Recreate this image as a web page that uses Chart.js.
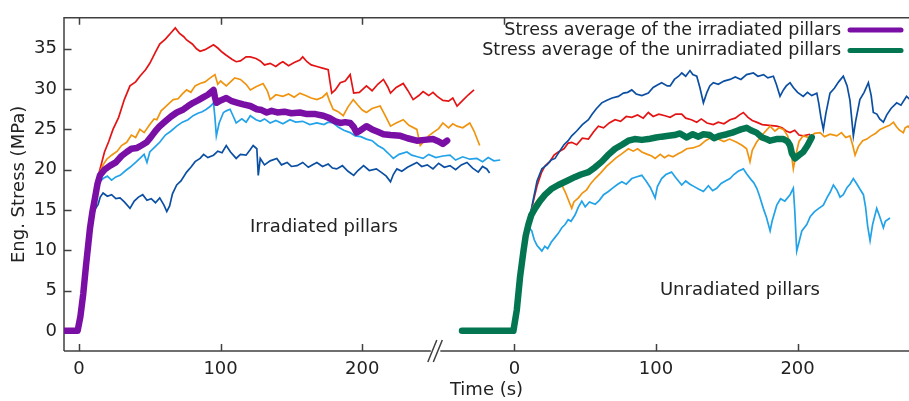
<!DOCTYPE html>
<html>
<head>
<meta charset="utf-8">
<script src="https://cdn.jsdelivr.net/npm/chart.js@4.4.1/dist/chart.umd.min.js"></script>
<style>
  html, body { margin: 0; padding: 0; background: #fff; }
  #wrap { width: 909px; height: 401px; }
</style>
</head>
<body>
<div id="wrap"><canvas id="myChart"></canvas></div>
<script>
// Data: [time (s), eng. stress (MPa)]
// Irradiated pillars (left part of the broken axis)
const irrRed = [[-11,0],[-5,0.2],[0,0],[3,4.6],[8,12.8],[11,16.5],[14,19.5],[18,22.2],[21,23.5],[24,25],[28,26.5],[32,28.7],[36,30.4],[40,30.9],[43,31.6],[47,32.4],[50,33.2],[54,34.6],[57,35.6],[61,36.2],[65,37.0],[68,37.6],[71,36.9],[74,36.5],[76,36.1],[80,35.6],[83,35.0],[85.5,34.7],[89,34.9],[92,35.2],[95,35.5],[98,35.1],[101,34.6],[104,34.2],[108,33.7],[111,33.4],[114,33.5],[118,34.0],[121,34.0],[125,33.8],[128,33.5],[131,33.0],[135,33.2],[139,32.8],[142,33.2],[144,33.4],[148,32.9],[152,33.3],[156,33.6],[158,34.0],[161,33.4],[164,33.0],[168,32.8],[172,32.6],[176,32.4],[177,31.2],[178.5,29.5],[181,29.9],[184.5,30.8],[188,31.0],[191.5,31.8],[194,29.5],[198,29.6],[203,30.4],[207,29.8],[211,30.6],[215,31.2],[218,30.3],[220,29.5],[224,30.2],[229,30.7],[232,29.9],[236,28.7],[240,29.2],[243,29.7],[247,29.2],[250,29.6],[253,29.1],[257,28.6],[261,28.5],[264,28.9],[267,27.9],[271,28.6],[275,29.3],[279,29.9]];
const irrOrange = [[-11,0],[0,0],[3,4.6],[8,12.8],[11,16.5],[14,19.5],[17,20.6],[19.6,21.3],[23,21.8],[27,22.3],[30,23.0],[33.7,23.4],[37,24.3],[40,24.0],[43,25.0],[46,24.6],[50,25.6],[53,26.3],[55,26.2],[58,27.3],[61,27.8],[64,28.3],[66.6,28.7],[70,28.8],[73,29.4],[76,29.9],[79,29.6],[82,30.4],[85.5,30.7],[89,30.9],[92,31.3],[96,31.8],[98,30.6],[100,31.0],[104,30.4],[107,30.9],[110,31.4],[114,31.2],[118,30.6],[121,29.9],[125,30.3],[130,30.7],[133,29.8],[135,28.7],[139,29.3],[144,29.1],[148,29.4],[152,29.0],[156,29.5],[160,29.2],[164,28.9],[168,28.7],[172,29.0],[175,29.5],[177,28.5],[179.5,27.5],[183,27.2],[186.6,26.7],[190,27.8],[193.7,28.7],[197,28.0],[200,27.4],[203,27.1],[207,27.6],[212.7,27.9],[216,26.8],[220,25.4],[224,25.8],[229,26.2],[233,25.5],[238.6,25.0],[241,23.0],[244,23.6],[247,24.2],[250,24.6],[254,25.1],[257,25.8],[261,25.2],[264,25.7],[267,25.4],[271,25.2],[276,25.8],[279,24.8],[283,23.0]];
const irrLightBlue = [[-11,0],[0,0],[3,4.6],[8,12.8],[11,16.5],[14,18.4],[17,18.9],[20,19.2],[23,18.7],[26,19.1],[29,19.3],[33,19.9],[36,20.3],[40,20.9],[43,21.4],[46,21.9],[48,20.9],[50,22.2],[54,22.9],[57,23.4],[61,24.3],[65,24.8],[69,25.4],[73,25.9],[77,26.2],[80.6,26.7],[84,27.0],[87,27.2],[90,27.5],[93,27.9],[95,28.3],[96,26.5],[97,24.2],[99,25.8],[102,27.1],[104,27.3],[106.7,27.5],[109,26.6],[111,25.8],[115,26.3],[118,25.9],[121,26.7],[125,26.2],[128,26.0],[131,26.3],[135,25.8],[139,26.1],[144,25.7],[149,26.2],[153,25.9],[158,26.0],[163,25.6],[168,25.8],[173,25.6],[176,25.9],[179.5,25.8],[183,25.3],[187,24.9],[191.5,24.6],[195,24.2],[199,24.1],[203,23.8],[207,23.6],[211,23.0],[215,22.6],[218,22.1],[222,21.4],[226,21.9],[231.6,22.2],[235,21.8],[239,21.6],[243,21.4],[247,21.9],[252,21.5],[257,21.7],[262,21.8],[266,21.2],[271,21.6],[276,21.3],[281,21.4],[285,21.0],[289,21.5],[293,21.1],[297.5,21.2]];
const irrDarkBlue = [[-11,0],[0,0],[3,4.6],[8,12.3],[11,15.0],[13.5,15.7],[15,16.6],[17,17.1],[20,16.7],[23,16.9],[26,16.4],[29,16.5],[32,16.0],[36,15.2],[39,16.1],[42,16.6],[45,16.9],[48,16.2],[51,16.4],[54,15.9],[57,16.5],[60,15.6],[62,14.8],[64,15.5],[66,17.0],[69,18.1],[72,18.6],[76,19.7],[79,20.3],[82,21.0],[85.5,21.4],[88,21.9],[91,21.5],[95,21.8],[98,22.3],[101,22.1],[104,23.0],[107,22.2],[111,21.4],[114,21.9],[118,21.8],[121,22.5],[123,23.0],[125.6,22.6],[126.6,19.3],[128,21.4],[131,20.6],[135,21.1],[139.7,21.4],[143,20.6],[147,20.9],[150,20.4],[154,20.5],[158,20.9],[162,20.3],[165,20.6],[168,20.9],[172,20.4],[176,20.7],[179,20.2],[182,20.1],[186,20.5],[190,19.8],[194,19.3],[197,19.9],[201,20.5],[205,19.9],[210,20.1],[214,19.6],[217,19.2],[220,18.5],[222,19.4],[224.5,20.1],[228,19.8],[232,20.3],[238.6,20.9],[242,20.4],[246,20.6],[250,20.1],[254,20.8],[258,20.3],[262,20.5],[266,20.0],[270,20.6],[274,20.9],[278,20.2],[282,19.7],[285,20.4],[288,20.1],[290,19.6]];
const irrAverage = [[-11,0],[-6,0],[-1,0],[1,1.8],[3,4.6],[5,8.2],[7.8,12.8],[9.5,14.8],[11.3,16.5],[13,18.2],[14.8,19.3],[18,20.0],[22,20.5],[26,20.9],[30,21.7],[33.7,22.2],[37,22.6],[41,22.7],[44,23.0],[47.8,23.4],[51,24.1],[54,24.8],[57,25.4],[61,26.0],[65,26.6],[69,27.1],[73,27.4],[77,27.9],[80.6,28.3],[84,28.6],[88,29.0],[91,29.3],[95,29.9],[96,29.0],[97,28.3],[100,28.6],[104,28.9],[108,28.5],[112,28.3],[116,28.1],[121,27.9],[125.6,27.5],[129,27.4],[132.6,27.1],[136,27.3],[140,27.1],[145,27.2],[150,27.0],[156,27.1],[161,26.9],[167,26.9],[172.6,26.7],[177,26.4],[181,26.0],[184.5,25.8],[188,25.9],[191.5,25.8],[194,25.3],[196,24.6],[199,24.9],[203,25.4],[207,25.0],[211,24.7],[215,24.4],[220,24.3],[227,24.2],[232,23.9],[238.6,23.6],[244,23.7],[250,23.8],[254,23.5],[257,23.2],[260,23.6]];

// Unirradiated pillars (right part of the broken axis)
const unirrRed = [[-37,0],[-30,0.1],[-20,-0.1],[-10,0.1],[-1,0],[2,2.6],[4,6.7],[6.4,9.9],[9.9,13.2],[13.4,16.1],[16,18.0],[19,19.6],[21.7,20.5],[25,21.0],[28,21.8],[31,22.2],[35,22.6],[38,23.3],[40.5,23.4],[44,23.1],[48,23.9],[52.3,23.8],[56,24.7],[59.3,25.4],[63,25.2],[67,25.8],[71.1,26.2],[75,26.0],[79,26.6],[82.9,26.5],[87,26.8],[91,26.4],[94.6,27.1],[98,26.6],[102,26.9],[106.4,26.7],[110,26.5],[114,26.9],[118.2,26.9],[121,26.4],[125,26.2],[128.8,25.9],[132,26.3],[136,25.8],[140.5,25.6],[144,25.9],[148,25.7],[152.3,26.2],[156,26.4],[159,26.8],[161.7,27.1],[165,26.5],[168,26.1],[171,25.9],[175,25.6],[180,25.5],[185.3,25.4],[189,25.2],[192,24.8],[194.7,24.6],[198,24.9],[201,24.3],[204,24.2],[208.8,24.4]];
const unirrOrange = [[-37,0],[-20,0],[-1,0],[2,2.6],[4,6.7],[6.4,9.9],[9.9,13.2],[13,15.4],[17,16.4],[21,17.0],[25,17.4],[28.7,17.7],[31,17.9],[33.5,18.1],[36,17.2],[38,16.3],[40.5,15.2],[42,16.0],[45.2,16.5],[48,17.1],[51,17.5],[54,18.3],[57,18.9],[61,19.6],[65,20.4],[68.8,21.0],[72,21.5],[76,22.0],[80.5,22.6],[84,22.3],[87,22.6],[90,22.2],[94,21.9],[97,21.7],[99.4,21.4],[103,21.9],[106,21.5],[108.8,21.8],[112,21.6],[116,22.0],[118.2,22.2],[121.7,22.6],[126,22.7],[131,23.0],[135,23.6],[138,23.9],[140.5,24.2],[144,23.8],[148,23.5],[152,23.8],[157,23.4],[161,23.0],[164,22.6],[166.4,21.0],[168,22.4],[171,23.4],[175,24.3],[178,24.9],[180.6,25.4],[184,24.8],[187,25.2],[190,25.0],[193,24.2],[195,22.8],[197,20.1],[199,22.0],[201,23.5],[204,24.2],[208,24.0],[212,24.5],[215.9,24.6],[219,24.1],[223,24.4],[227.7,24.2],[231,24.6],[234,24.0],[237,24.2],[239,23.0],[240.6,21.8],[243,22.9],[246,23.6],[248.9,23.8],[252,24.2],[255,24.5],[258.3,25.0],[262,25.3],[265,25.5],[267.7,25.9],[270,25.3],[272,24.9],[274.7,24.6],[276,25.2],[278,25.4],[280,25.0]];
const unirrLightBlue = [[-37,0],[-20,0],[-1,0],[2,2.6],[4,6.7],[6.4,9.9],[8.5,11.8],[10.5,12.8],[12.3,12.4],[14,11.3],[16,10.6],[17.5,10.3],[19.4,9.9],[21.5,10.5],[23.5,10.2],[26,11.0],[28.7,11.6],[31,12.1],[33.5,12.8],[35.8,13.2],[38,13.8],[40,13.6],[42.9,14.4],[45,15.3],[47.6,16.1],[50,15.4],[53,16.0],[57,15.7],[60,16.2],[63,16.9],[66.4,17.3],[70,17.8],[73,18.2],[75.9,18.5],[79,18.2],[82.9,18.9],[86,19.1],[90,19.3],[93,18.6],[96,17.8],[99.4,16.5],[101,17.9],[104,18.9],[107,19.4],[111,19.7],[114,19.0],[118.2,18.1],[121,18.6],[124,18.2],[127,17.9],[130,17.6],[133.5,17.3],[137,18.0],[140,17.4],[142.9,17.7],[146,18.3],[149,18.6],[152.3,18.9],[155,19.4],[158,19.8],[161.7,20.1],[164,19.5],[167,18.8],[169,18.4],[171.2,17.7],[173,16.8],[175.8,15.2],[178,14.1],[180.6,12.4],[182,13.6],[185.3,15.6],[188,16.4],[191,16.1],[194.7,16.9],[197,17.7],[198,15.0],[199.4,9.9],[201,11.0],[203,12.4],[206.5,13.2],[209,14.2],[212,14.8],[215,15.2],[218.2,15.6],[221,16.6],[223,17.2],[225.3,18.1],[228,17.4],[230,16.6],[232.3,16.9],[235,17.8],[237,18.2],[239.4,18.9],[242,18.2],[244,17.6],[246.5,16.9],[248,15.4],[249.5,13.0],[251.2,11.2],[253,13.2],[255.9,15.2],[258,14.2],[260.6,12.8],[262,13.6],[265.3,14.0]];
const unirrDarkBlue = [[-37,0],[-20,0],[-1,0],[2,2.6],[4,6.7],[6.4,9.9],[9.9,13.2],[13,16.0],[16,18.6],[19.4,20.1],[23,20.6],[26,21.2],[28.7,21.4],[32,22.3],[35,23.1],[38,23.6],[40.5,24.2],[44,24.8],[48,25.6],[52.3,26.2],[55,26.9],[58,27.6],[61.7,28.3],[65,28.6],[69,28.9],[73.4,29.1],[77,29.5],[80,29.6],[82.9,29.9],[86,29.4],[90,29.2],[94.6,29.5],[98,30.2],[101,30.5],[104,30.8],[108,30.4],[110,30.4],[113,31.2],[116,31.6],[118.2,32.0],[121,31.6],[124,32.3],[126,31.8],[128.8,31.6],[131,30.2],[133.5,28.3],[136,29.6],[138,30.4],[140.5,30.8],[144,30.6],[148,31.0],[152.3,31.2],[156,31.5],[160,31.2],[164,31.8],[168.8,32.0],[172,31.6],[176,31.8],[179,31.4],[182.9,31.6],[185,30.6],[187.6,29.1],[190,29.9],[192,30.4],[194.7,30.8],[197,30.2],[200,29.6],[204,29.1],[207,29.6],[210,29.2],[213.6,29.5],[215,28.2],[216.5,26.5],[218.2,25.0],[220,27.0],[222.9,29.5],[226,30.1],[229,30.9],[232.3,31.6],[235,30.4],[237,28.6],[239.4,24.2],[241,26.0],[244,28.7],[247,29.6],[250,30.8],[252,29.2],[253.5,27.1],[256,26.9],[258,26.3],[260.6,25.9],[263,26.8],[266,27.6],[270,28.3],[273,28.0],[277,29.1],[280,28.6]];
const unirrAverage = [[-37,0],[-30,0],[-20,0],[-10,0],[-0.7,0],[1.7,2.6],[4,6.7],[6.4,9.9],[8,11.8],[9.9,13.2],[12,14.4],[14.6,15.2],[18,16.1],[21.7,16.9],[26,17.6],[31,18.1],[37,18.6],[42.9,19.1],[47,19.4],[52.3,19.7],[57,20.3],[61.7,21.0],[66,21.8],[71.1,22.6],[76,23.1],[80.5,23.6],[85,23.8],[90,23.7],[94.6,23.8],[100,24.0],[104,24.1],[108.8,24.2],[113,24.3],[117,24.5],[121.7,24.0],[126,24.4],[130,24.1],[133.5,24.4],[138,24.3],[141,23.9],[145,24.2],[150,24.4],[154,24.6],[157,24.8],[160,25.0],[164,25.2],[167,24.9],[171,24.6],[175,24.0],[178,23.8],[180.6,23.6],[185,23.8],[190,23.8],[193,23.5],[194.7,23.0],[196,22.0],[198.2,21.4],[201,21.8],[204,22.2],[207,23.0],[210,24.0]];

// axis stuff
const rightShift = 307.5;         // where the right time axis starts on the shared scale
const breakAt = 252;              // position of the // mark
const timeTicks = [0, 100, 200];
const topTicks = [0, 100, 200, 300];
const stressTicks = [0, 5, 10, 15, 20, 25, 30, 35];
const legendLabels = ['Stress average of the irradiated pillars', 'Stress average of the unirradiated pillars'];
const panelLabels = ['Irradiated pillars', 'Unradiated pillars'];

const FONT = "'DejaVu Sans', sans-serif";
const axisColor = '#404040';
const textColor = '#222';
const red = '#e41414', orange = '#f0940f', lightBlue = '#22a2e8', darkBlue = '#0b4fa3';
const purple = '#7a0fa6', green = '#037651';

function toPoints(arr, shift) {
    return arr.map(p => ({x: p[0] + shift, y: p[1]}));
}

function thin(data, color, shift) {
    return {data: toPoints(data, shift), borderColor: color, borderWidth: 1.7, pointRadius: 0, order: 2};
}

const datasets = [
    {label: legendLabels[0], data: toPoints(irrAverage, 0), borderColor: purple, borderWidth: 6.5, pointRadius: 0, order: 1, borderCapStyle: 'round', borderJoinStyle: 'round'},
    {label: legendLabels[1], data: toPoints(unirrAverage, rightShift), borderColor: green, borderWidth: 6.5, pointRadius: 0, order: 1, borderCapStyle: 'round', borderJoinStyle: 'round'},
    thin(irrDarkBlue, darkBlue, 0),
    thin(irrLightBlue, lightBlue, 0),
    thin(irrOrange, orange, 0),
    thin(irrRed, red, 0),
    thin(unirrLightBlue, lightBlue, rightShift),
    thin(unirrOrange, orange, rightShift),
    thin(unirrDarkBlue, darkBlue, rightShift),
    thin(unirrRed, red, rightShift)
];

// frame, inward ticks, axis break, legend and panel labels (gnuplot look)
const extras = {
    id: 'extras',
    beforeDatasetsDraw(chart) {
        const {ctx, chartArea: a, scales: {x, y}} = chart;
        ctx.save();
        ctx.strokeStyle = axisColor;
        ctx.lineWidth = 1.5;
        ctx.beginPath();
        ctx.moveTo(a.left, a.bottom);
        ctx.lineTo(a.left, a.top);
        ctx.lineTo(a.right, a.top);
        const bx = x.getPixelForValue(breakAt);
        ctx.moveTo(a.left, a.bottom);
        ctx.lineTo(bx - 5, a.bottom);
        ctx.moveTo(bx + 4.5, a.bottom);
        ctx.lineTo(a.right, a.bottom);
        // break marks
        ctx.moveTo(bx - 8, a.bottom + 11);
        ctx.lineTo(bx + 1, a.bottom - 11);
        ctx.moveTo(bx - 2.5, a.bottom + 11);
        ctx.lineTo(bx + 6.5, a.bottom - 11);
        // ticks
        stressTicks.forEach(v => {
            const py = Math.round(y.getPixelForValue(v)) + 0.5;
            ctx.moveTo(a.left, py);
            ctx.lineTo(a.left + 7.5, py);
        });
        timeTicks.forEach(t => {
            [0, rightShift].forEach(s => {
                const px = Math.round(x.getPixelForValue(t + s)) + 0.5;
                ctx.moveTo(px, a.bottom);
                ctx.lineTo(px, a.bottom - 7);
            });
        });
        topTicks.forEach(t => {
            const px = Math.round(x.getPixelForValue(t)) + 0.5;
            ctx.moveTo(px, a.top);
            ctx.lineTo(px, a.top + 7);
        });
        ctx.stroke();
        ctx.restore();
    },
    afterDraw(chart) {
        const {ctx, scales: {x, y}} = chart;
        ctx.save();
        ctx.font = '18px ' + FONT;
        ctx.fillStyle = textColor;
        ctx.textBaseline = 'middle';
        ctx.textAlign = 'center';
        ctx.fillText(panelLabels[0], x.getPixelForValue(173), y.getPixelForValue(12.9));
        ctx.fillText(panelLabels[1], x.getPixelForValue(466.8), y.getPixelForValue(5.0));
        // legend
        const rows = [[legendLabels[0], purple, 30], [legendLabels[1], green, 50.5]];
        ctx.font = '17.5px ' + FONT;
        ctx.textAlign = 'right';
        rows.forEach(r => {
            ctx.fillStyle = textColor;
            ctx.fillText(r[0], 841, r[2]);
            ctx.strokeStyle = r[1];
            ctx.lineWidth = 5;
            ctx.lineCap = 'round';
            ctx.beginPath();
            ctx.moveTo(850, r[2]);
            ctx.lineTo(901, r[2]);
            ctx.stroke();
        });
        ctx.restore();
    }
};

const ctx = document.getElementById('myChart');

new Chart(ctx, {
    type: 'line',
    data: {datasets: datasets},
    options: {
        responsive: true,
        maintainAspectRatio: false,
        animation: false,
        parsing: false,
        layout: {padding: {top: 13, right: 0, left: 0, bottom: 0}},
        plugins: {legend: {display: false}, tooltip: {enabled: false}},
        elements: {line: {tension: 0}},
        scales: {
            x: {
                type: 'linear',
                min: -10.6,
                max: 586.2,
                grid: {display: false, drawTicks: false},
                border: {display: false},
                afterBuildTicks: s => {
                    s.ticks = timeTicks.map(v => ({value: v})).concat(timeTicks.map(v => ({value: v + rightShift})));
                },
                afterFit: s => { s.height = 50; },
                ticks: {
                    autoSkip: false,
                    maxRotation: 0,
                    padding: 8,
                    color: textColor,
                    font: {family: FONT, size: 18},
                    callback: v => String(Math.round(v >= rightShift - 20 ? v - rightShift : v))
                },
                title: {display: true, text: 'Time (s)', color: textColor, font: {family: FONT, size: 18}, padding: {top: 0, bottom: 0}}
            },
            y: {
                type: 'linear',
                min: -2.5,
                max: 38.85,
                grid: {display: false, drawTicks: false},
                border: {display: false},
                afterBuildTicks: s => { s.ticks = stressTicks.map(v => ({value: v})); },
                afterFit: s => { s.width = 64; },
                ticks: {padding: 7, color: textColor, font: {family: FONT, size: 18}},
                title: {display: true, text: 'Eng. Stress (MPa)', color: textColor, font: {family: FONT, size: 18}, padding: {top: 9, bottom: 0}}
            }
        }
    },
    plugins: [extras]
});
</script>
</body>
</html>
